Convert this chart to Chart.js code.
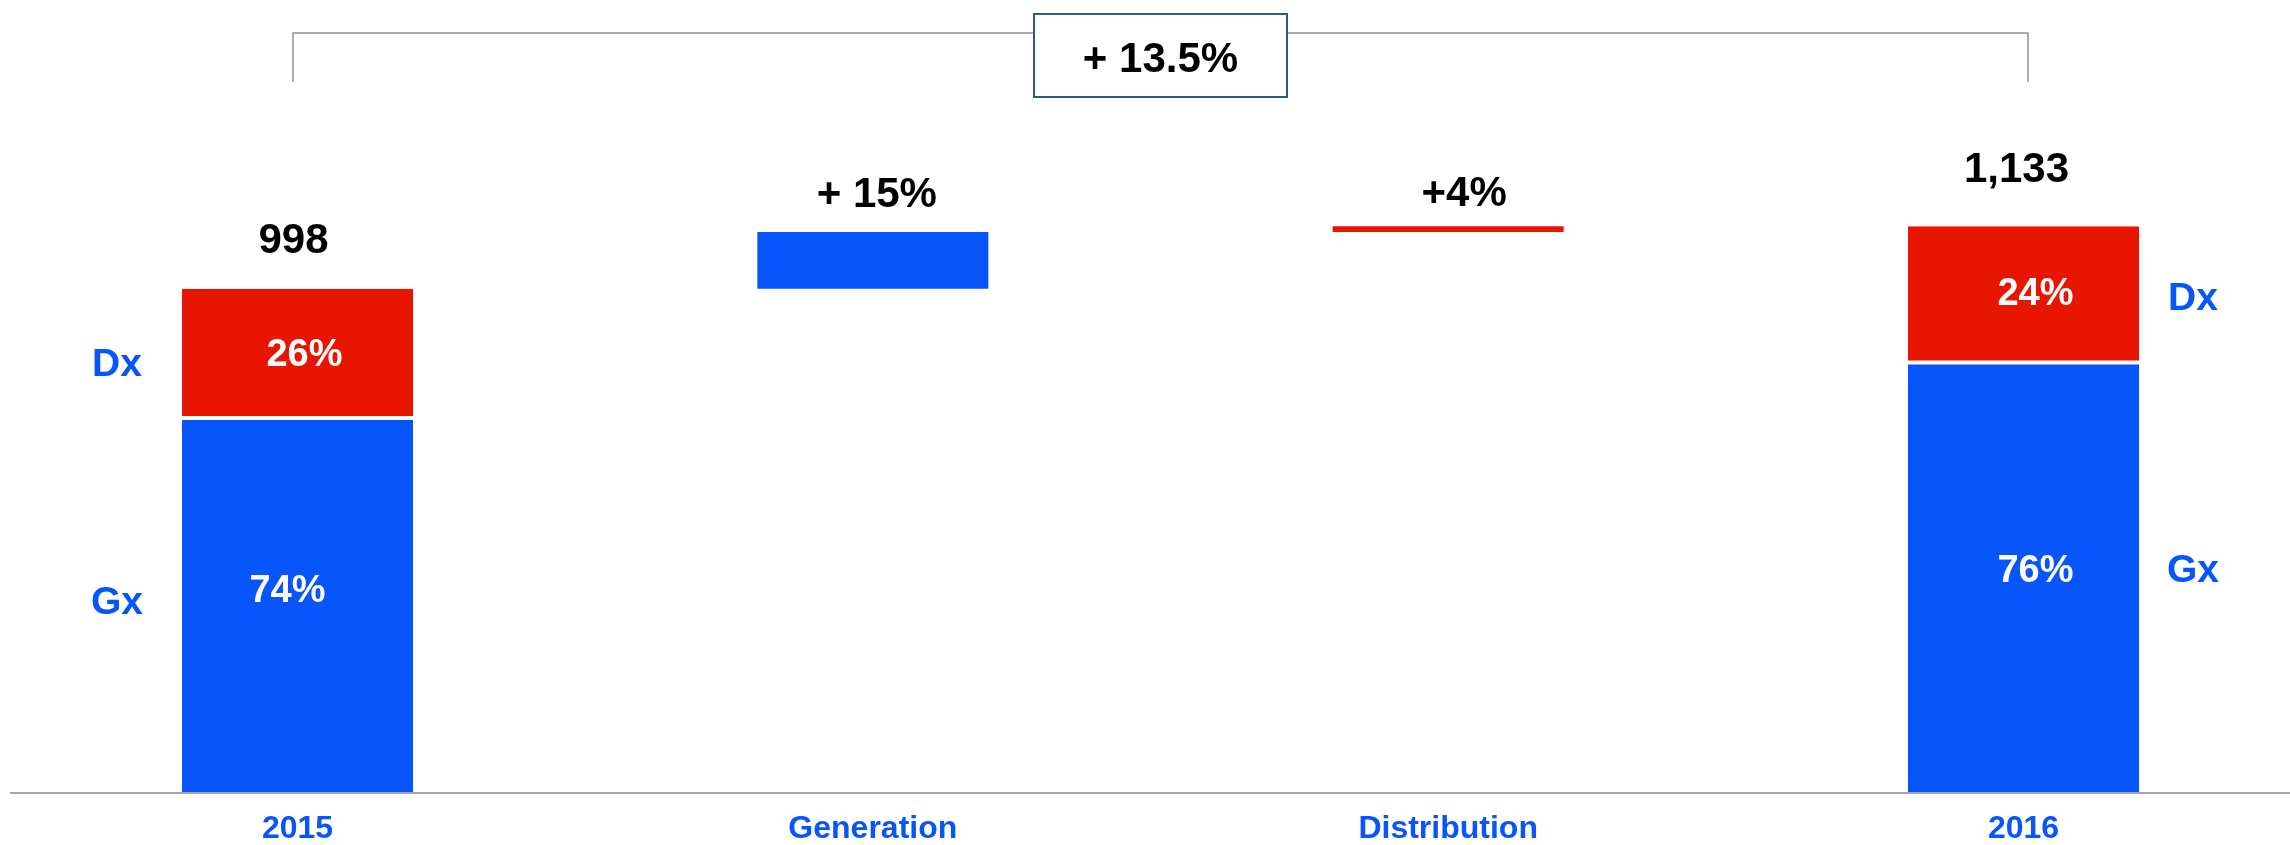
<!DOCTYPE html>
<html>
<head>
<meta charset="utf-8">
<script src="https://cdn.jsdelivr.net/npm/chart.js@4.4.1/dist/chart.umd.min.js"></script>
<style>
html, body { margin: 0; padding: 0; background: #ffffff; }
#wrap { width: 2290px; height: 845px; position: relative; }
</style>
</head>
<body>
<div id="wrap"><canvas id="c"></canvas></div>
<script>
// ---- data ----
const categories = ['2015', 'Generation', 'Distribution', '2016'];
const gxValues = [738, 113, 0, 848];   // Gx segment heights
const dxValues = [260, 0, 11, 274];    // Dx segment heights
const topLabels = ['998', '+ 15%', '+4%', '1,133'];
const gxShareLabels = ['74%', '', '', '76%'];
const dxShareLabels = ['26%', '', '', '24%'];
const seriesNames = ['Gx', 'Dx'];
const totalChangeLabel = '+ 13.5%';

// ---- styles ----
const BLUE = '#0755FB';
const RED = '#E81600';
const FONT = '"Liberation Sans", Arial, Helvetica, sans-serif';

// waterfall bases (first and last columns are totals)
const bases = [];
let running = 0;
categories.forEach((c, i) => {
  const isTotal = (i === 0 || i === categories.length - 1);
  const base = isTotal ? 0 : running;
  bases.push(base);
  running = base + gxValues[i] + dxValues[i];
});

const gxData = categories.map((c, i) => gxValues[i] > 0 ? [bases[i], bases[i] + gxValues[i]] : null);
const dxData = categories.map((c, i) => dxValues[i] > 0 ? [bases[i] + gxValues[i], bases[i] + gxValues[i] + dxValues[i]] : null);

const annotate = {
  id: 'annotate',
  beforeDatasetsDraw(chart, args, o) {
    const ctx = chart.ctx;
    const y0 = chart.scales.y.getPixelForValue(0);
    ctx.save();
    ctx.fillStyle = '#a6a6a6';
    ctx.fillRect(o.axisLeft, y0, chart.width - o.axisLeft, 2);
    ctx.restore();
  },
  afterDatasetsDraw(chart, args, o) {
    const ctx = chart.ctx;
    const xs = chart.scales.x, ys = chart.scales.y;
    const half = o.barHalf;
    ctx.save();
    ctx.textAlign = 'center';
    ctx.textBaseline = 'alphabetic';

    // top value labels
    ctx.fillStyle = '#000';
    ctx.font = 'bold 42px ' + FONT;
    categories.forEach((c, i) => {
      const top = ys.getPixelForValue(bases[i] + gxValues[i] + dxValues[i]);
      ctx.fillText(topLabels[i], xs.getPixelForValue(i) + o.topDx[i], top - o.topLift[i]);
    });

    // share labels inside bars
    ctx.fillStyle = '#fff';
    ctx.font = 'bold 38px ' + FONT;
    categories.forEach((c, i) => {
      const cx = xs.getPixelForValue(i);
      if (gxShareLabels[i]) {
        const a = ys.getPixelForValue(bases[i]), b = ys.getPixelForValue(bases[i] + gxValues[i]);
        ctx.fillText(gxShareLabels[i], cx + o.gxIn[i][0], (a + b) / 2 + o.gxIn[i][1]);
      }
      if (dxShareLabels[i]) {
        const a = ys.getPixelForValue(bases[i] + gxValues[i]), b = ys.getPixelForValue(bases[i] + gxValues[i] + dxValues[i]);
        ctx.fillText(dxShareLabels[i], cx + o.dxIn[i][0], (a + b) / 2 + o.dxIn[i][1]);
      }
    });

    // series names beside first and last bars
    ctx.fillStyle = BLUE;
    ctx.font = 'bold 39px ' + FONT;
    [0, categories.length - 1].forEach((i, k) => {
      const cx = xs.getPixelForValue(i);
      const sx = k === 0 ? cx - half - o.sideGap[0] : cx + half + o.sideGap[1];
      const g0 = ys.getPixelForValue(bases[i]), g1 = ys.getPixelForValue(bases[i] + gxValues[i]);
      const d1 = ys.getPixelForValue(bases[i] + gxValues[i] + dxValues[i]);
      ctx.fillText(seriesNames[0], sx, (g0 + g1) / 2 + o.sideDy[k][0]);
      ctx.fillText(seriesNames[1], sx, (g1 + d1) / 2 + o.sideDy[k][1]);
    });

    // bracket and total change box
    const x0 = xs.getPixelForValue(0) - o.bracketOut;
    const x1 = xs.getPixelForValue(categories.length - 1) + o.bracketOut;
    ctx.strokeStyle = '#ababaf';
    ctx.lineWidth = 2;
    ctx.beginPath();
    ctx.moveTo(x0, o.bracketBottom);
    ctx.lineTo(x0, o.bracketTop);
    ctx.lineTo(x1, o.bracketTop);
    ctx.lineTo(x1, o.bracketBottom);
    ctx.stroke();

    const mx = (x0 + x1) / 2;
    ctx.fillStyle = '#fff';
    ctx.fillRect(mx - o.boxHalfW, o.boxTop, o.boxHalfW * 2, o.boxH);
    ctx.strokeStyle = '#2F5597';
    ctx.lineWidth = 2;
    ctx.strokeRect(mx - o.boxHalfW, o.boxTop, o.boxHalfW * 2, o.boxH);
    ctx.fillStyle = '#000';
    ctx.font = 'bold 42px ' + FONT;
    ctx.fillText(totalChangeLabel, mx, o.boxTop + 58);
    ctx.restore();
  }
};

new Chart(document.getElementById('c'), {
  type: 'bar',
  data: {
    labels: categories,
    datasets: [
      {
        label: seriesNames[0],
        data: gxData,
        backgroundColor: BLUE,
        borderWidth: 0,
        inflateAmount: 0,
        barThickness: 231,
        grouped: false,
        clip: false
      },
      {
        label: seriesNames[1],
        data: dxData,
        backgroundColor: RED,
        borderColor: '#ffffff',
        borderSkipped: false,
        borderWidth: (c) => (c.dataIndex === 0 || c.dataIndex === categories.length - 1)
          ? { top: 0, left: 0, right: 0, bottom: 4 } : 0,
        inflateAmount: 0,
        barThickness: 231,
        grouped: false,
        clip: false
      }
    ]
  },
  options: {
    responsive: true,
    maintainAspectRatio: false,
    devicePixelRatio: 1,
    animation: false,
    layout: { padding: { left: 297.5, right: 266.5, top: 0, bottom: 0 } },
    plugins: {
      legend: { display: false },
      tooltip: { enabled: false },
      annotate: {
        axisLeft: 10,
        barHalf: 115.5,
        topDx: [-4, 4, 16, -7],
        topLift: [36, 25, 20, 44],
        gxIn: [[-10, -4], null, null, [12, 3.5]],
        dxIn: [[7, 12], null, null, [12, 10]],
        sideGap: [65, 54],
        sideDy: [[8, 22], [3.5, 15]],
        bracketOut: 4.5,
        bracketTop: 33,
        bracketBottom: 82,
        boxHalfW: 126.5,
        boxTop: 14,
        boxH: 83
      }
    },
    scales: {
      x: {
        type: 'category',
        offset: false,
        grid: { display: false, drawTicks: false, offset: false },
        border: { display: false },
        afterFit: (s) => { s.height = 53; },
        ticks: {
          padding: 18,
          color: BLUE,
          autoSkip: false,
          maxRotation: 0,
          font: { family: FONT, size: 32, weight: 'bold' }
        }
      },
      y: {
        display: false,
        min: 0,
        max: 1571
      }
    }
  },
  plugins: [annotate]
});
</script>
</body>
</html>
